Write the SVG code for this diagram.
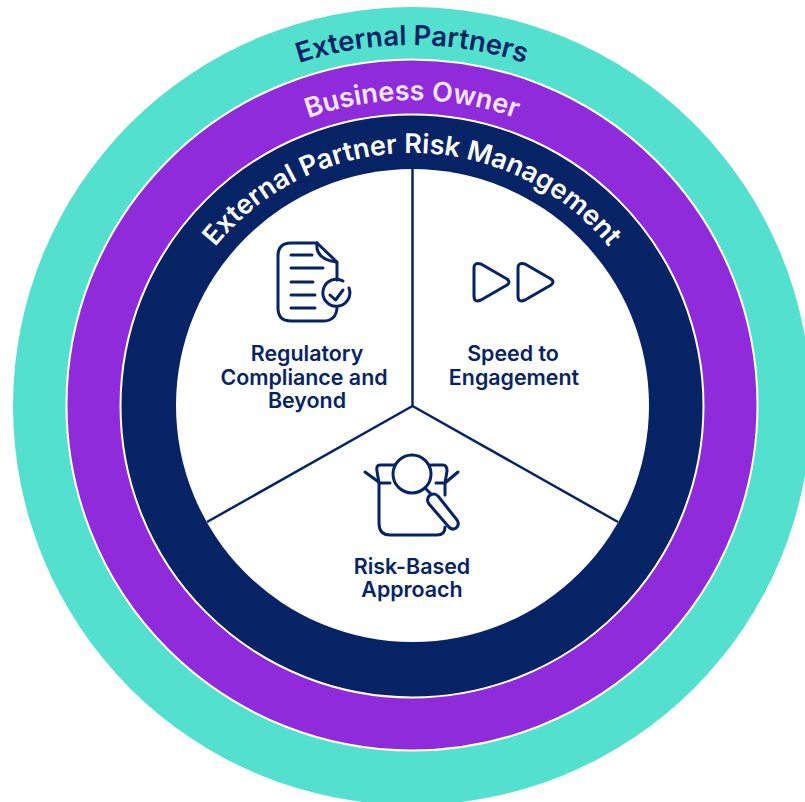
<svg xmlns="http://www.w3.org/2000/svg" width="805" height="802" viewBox="0 0 805 802">
<style>
.ring{stroke:#fff;stroke-width:2}
.arc{font-family:Inter,"Liberation Sans",Arial,sans-serif;font-weight:600;font-size:27px;text-anchor:middle}
.lbl{font-family:Inter,"Liberation Sans",Arial,sans-serif;font-weight:600;font-size:21.400px;fill:#062465;text-anchor:middle}
.ic{fill:none;stroke:#062465;stroke-width:3;stroke-linecap:round;stroke-linejoin:round}
</style>
<defs>
<path id="p1" d="M51 406A361 361 0 0 1 773 406"/>
<path id="p2" d="M106 406A306 306 0 0 1 718 406"/>
<path id="p3" d="M159 406A253 253 0 0 1 665 406"/>
</defs>
<rect width="805" height="802" fill="#fff"/>
<g id="ring-external-partners">
<circle cx="412" cy="406" r="399" fill="#53e0cf"/>
<text class="arc" fill="#062465" style="font-size:27.500px"><textPath href="#p1" startOffset="50%">External Partners</textPath></text>
</g>
<g id="ring-business-owner">
<circle class="ring" cx="412" cy="405" r="345.500" fill="#8f2bdb"/>
<text class="arc" fill="#f6e6fb"><textPath href="#p2" startOffset="50%">Business Owner</textPath></text>
</g>
<g id="ring-risk-management">
<circle class="ring" cx="412" cy="406" r="291.500" fill="#062465"/>
<text class="arc" fill="#fff"><textPath href="#p3" startOffset="50%">External Partner Risk Management</textPath></text>
</g>
<g id="core"><circle cx="412.500" cy="405.500" r="236.500" fill="#fff"/></g>
<g id="connectors" fill="none" stroke="#062465" stroke-width="2.500">
<path d="M412.500 169V406"/>
<path d="M412.500 406L207 522"/>
<path d="M412.500 406L618 522"/>
</g>
<g id="node-regulatory">
<path class="ic" d="M317 243H291Q278 243 278 256V308Q278 321 291 321H323Q336 321 337 308"/>
<path class="ic" d="M317 243L337 262V280"/>
<path class="ic" d="M317 243Q315 259 336 262"/>
<path class="ic" d="M291 255H312M291 268H323M291 282H313M291 295H315M291 308H315"/>
<path class="ic" d="M349 288A13.500 13.500 0 1 1 343 281"/>
<path class="ic" d="M330 295L335.500 300L343 290"/>
<text class="lbl"><tspan x="307" y="361">Regulatory</tspan><tspan x="304" y="385">Compliance and</tspan><tspan x="307" y="408">Beyond</tspan></text>
</g>
<g id="node-speed">
<path class="ic" d="M474 268Q474 262 481 264L507 279Q511 282 507 285L481 300Q474 303 474 296Z"/>
<path class="ic" d="M518 268Q518 262 525 264L551 279Q555 282 551 285L525 300Q518 303 518 296Z"/>
<text class="lbl"><tspan x="513" y="361">Speed to</tspan><tspan x="514" y="385">Engagement</tspan></text>
</g>
<g id="node-risk">
<path class="ic" d="M395 465H380Q376 465 377 471L379 483V523Q379 535 390 535H437Q445 535 445 527M431 465H443Q447 465 447 471L445 483V495"/>
<path class="ic" d="M365 472L380 483H390M458 472L445 483H436"/>
<circle class="ic" cx="412" cy="474" r="19"/>
<path class="ic" d="M425 488L431 494"/>
<path class="ic" d="M429 496Q434 492 438 496L457 520Q460 525 456 528Q452 531 448 526L429 504Q426 500 429 496Z"/>
<text class="lbl"><tspan x="412" y="574">Risk-Based</tspan><tspan x="412" y="597">Approach</tspan></text>
</g>
</svg>
